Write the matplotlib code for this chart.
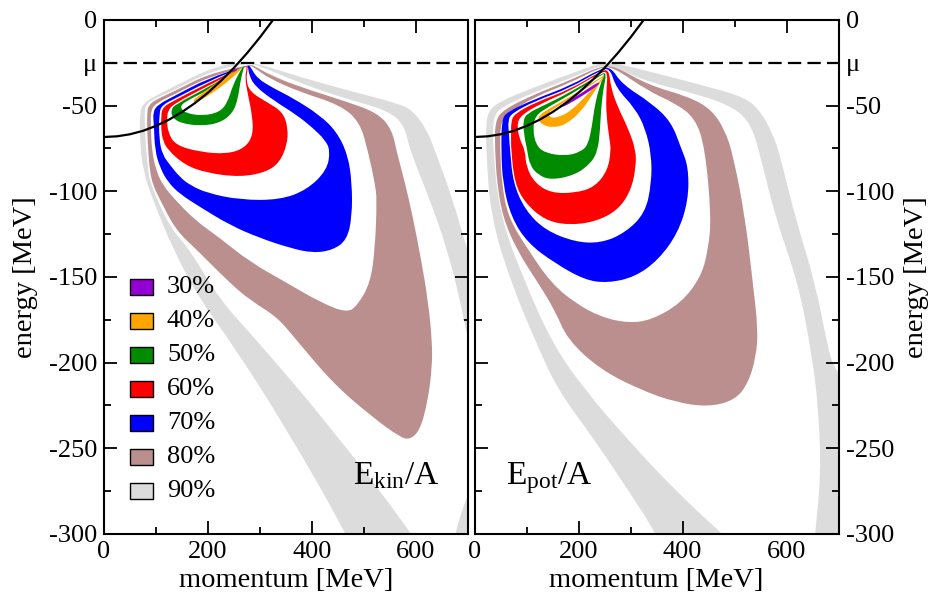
import matplotlib
matplotlib.use("Agg")
import matplotlib.pyplot as plt
from matplotlib.patches import Rectangle, PathPatch
from matplotlib.path import Path

plt.rcParams['font.family'] = ['Liberation Serif', 'DejaVu Serif']
plt.rcParams['mathtext.fontset'] = 'custom'
plt.rcParams['mathtext.rm'] = 'Liberation Serif'
plt.rcParams['mathtext.it'] = 'Liberation Serif:italic'
plt.rcParams['axes.unicode_minus'] = False

# ---------------------------------------------------------------- data
levels = ['30%', '40%', '50%', '60%', '70%', '80%', '90%']
level_colors = ['#9400d3', '#ffa500', '#008b00', '#ff0000', '#0000ff', '#bc8f8f', '#dcdcdc']

mu = -25.0  # chemical potential [MeV]

# quasi-particle dispersion (momentum [MeV], energy [MeV])
disp_p = [0, 25, 50, 75, 100, 125, 150, 175, 200, 225, 250, 275, 300, 325, 340]
disp_e = [-68.3, -67.9, -66.7, -64.7, -61.8, -58.2, -53.7, -48.5, -42.4, -35.5,
          -27.9, -19.4, -10.1, 0.0, 6.5]

x_major = [0, 200, 400, 600]
x_minor = [100, 300, 500]
y_major = [0, -50, -100, -150, -200, -250, -300]
y_minor = [-25, -75, -125, -175, -225, -275]

# contour bands, kinetic energy panel: outer and inner boundaries (p, E)
kin_gray_out = [(483, -315), (467, -300), (344, -235), (242, -187), (185, -163.5),
                (133, -134), (94, -105), (75, -88), (69, -70), (69, -54), (75, -49),
                (94, -45), (137, -38.5), (198, -29.2), (242, -25.4), (271, -24.8),
                (292, -25.1), (377, -33.3), (473, -41.4), (569, -49), (594, -53),
                (621, -64), (640, -79), (671, -105), (698, -134), (762, -193), (762, -315)]
kin_gray_in = [(617, -315), (594, -300), (429, -235), (294, -187), (223, -163.5),
               (165, -134), (131, -122.6), (102, -105), (88, -93.4), (85, -87.6),
               (81, -76), (79, -64), (78, -53.7), (81, -49), (98, -45.8), (137, -40.6),
               (198, -30.9), (271, -25.1), (296, -26.3), (377, -36.8), (454, -45),
               (550, -53.1), (579, -62.5), (588, -76), (627, -105), (660, -134),
               (685, -163.5), (698, -185), (723, -204), (723, -268.5), (698, -277),
               (675, -300), (665, -315)]
kin_brown_out = [(281, -26), (198, -31.8), (137, -41.4), (98, -46.7), (85, -50.2),
                 (83, -54.3), (83, -64.2), (85, -76), (88, -87.6), (94, -96.3),
                 (108, -105), (138, -122.6), (179, -134.3), (242, -153.5), (281, -163.5),
                 (333, -173.4), (367, -185.6), (440, -212), (517, -232), (569, -243.4),
                 (588, -245), (608, -239.4), (623, -222), (631, -202.6), (631, -187),
                 (623, -163.5), (610, -140), (594, -115), (579, -95.2), (563, -77),
                 (554, -64.2), (527, -54.3), (463, -47.3), (377, -39.1), (319, -32.1),
                 (290, -26.9)]
kin_brown_in = [(281, -26.6), (198, -33.6), (137, -43.2), (102, -48.2), (90, -52.5),
                (90, -61.3), (92, -76), (100, -87.6), (113, -96.3), (137, -105),
                (175, -116.8), (223, -127.3), (281, -141.3), (352, -153.5), (415, -164.6),
                (467, -171), (488, -166.4), (512, -153.5), (521, -134.3), (525, -105),
                (521, -95.2), (508, -77), (492, -59.5), (454, -49.6), (377, -42),
                (319, -34.4), (287, -27.4)]
kin_blue_out = [(277, -26.3), (198, -34.4), (137, -44.1), (104, -49.3), (94, -53.7),
                (96, -61.3), (98, -76), (108, -86.4), (123, -94.6), (146, -101.6),
                (185, -109.2), (242, -119.7), (300, -127.3), (358, -133.1), (402, -136),
                (440, -134.3), (467, -128.4), (477, -115), (477, -95.2), (469, -78.8),
                (448, -65.4), (415, -55.5), (363, -45.5), (325, -39.7), (294, -33.9),
                (281, -26.9)]
kin_blue_in = [(273, -26.6), (198, -36.2), (137, -45.8), (112, -49.6), (106, -54.3),
               (106, -70), (113, -78.8), (127, -84.7), (146, -91.7), (165, -96.3),
               (198, -101), (262, -105), (338, -105), (390, -99.2), (429, -87.6),
               (435, -76), (425, -70), (402, -63.1), (371, -55.5), (325, -46.7),
               (290, -38.5), (279, -32.1), (277, -27.1)]
kin_red_out = [(275, -26.3), (198, -37.1), (137, -46.7), (113, -50.8), (110, -55.5),
               (110, -64.2), (113, -70), (123, -76), (156, -84.7), (198, -89.3),
               (262, -91.7), (313, -88.7), (338, -82.9), (352, -73), (354, -63.1),
               (344, -53.7), (313, -47.9), (281, -42), (273, -35), (277, -27.4)]
kin_red_in = [(273, -26.9), (198, -38.8), (137, -48.5), (123, -52.5), (121, -58.4),
              (123, -65.4), (137, -73), (185, -77.1), (237, -78.2), (271, -74.7),
              (287, -67.1), (285, -55.5), (277, -43.8), (271, -33.9), (275, -27.7)]
kin_green_out = [(271, -26.6), (198, -39.7), (137, -49.3), (129, -52.5), (131, -56.6),
                 (146, -60.1), (185, -61.9), (223, -60.1), (248, -54.3), (258, -45.5),
                 (262, -36.2), (269, -27.4)]
kin_green_in = [(269, -27.1), (198, -41.4), (156, -47.6), (146, -50.8), (156, -54.3),
                (190, -56), (223, -53.7), (238, -47.9), (248, -37.9), (265, -28)]
kin_orange_out = [(267, -26.9), (223, -35), (185, -43.8), (171, -46.7), (175, -48.5),
                  (194, -45.5), (233, -37.4), (265, -28.6)]
kin_purple_out = [(254, -28.3), (244, -30.4), (248, -30.6), (258, -28.9)]

# contour bands, potential energy panel
pot_gray_out = [(365, -315), (349, -299.5), (295, -274.4), (231, -245.2), (160, -216),
                (120, -189.7), (70, -153.5), (31, -115), (22, -76), (22, -61.3),
                (26, -53.7), (45, -47.9), (116, -39.1), (183, -31.5), (241, -25.1),
                (270, -25.1), (347, -30.9), (435, -37.9), (520, -45), (551, -53.7),
                (574, -67.1), (587, -78.8), (616, -115), (655, -153.5), (680, -192.7),
                (693, -204.3), (741, -221.8), (741, -315)]
pot_gray_in = [(530, -315), (474, -299.5), (385, -274.4), (295, -245.2), (212, -216),
               (151, -189.7), (97, -153.5), (49, -115), (35, -76), (35, -57.2),
               (51, -50.8), (116, -42), (183, -34.2), (243, -26.3), (270, -27.4),
               (333, -36.2), (435, -43.8), (501, -51.4), (532, -61.3), (549, -78.8),
               (578, -115), (622, -153.5), (647, -192.7), (661, -225.9), (666, -264.5),
               (655, -299.5), (649, -315)]
pot_brown_out = [(270, -26.9), (333, -37.9), (414, -45), (456, -52.5), (481, -64.2),
                 (497, -78.8), (520, -115), (535, -153.5), (545, -181), (541, -196.7),
                 (526, -211.9), (501, -221.8), (449, -225.9), (385, -223), (320, -216),
                 (243, -204.3), (179, -186.8), (154, -169.3), (122, -153.5), (81, -134.3),
                 (54, -115), (43, -95.2), (39, -76), (39, -59.5), (54, -52.5),
                 (116, -43.2), (183, -35.3), (241, -26.9)]
pot_brown_in = [(266, -27.4), (333, -41.4), (385, -48.5), (424, -57.2), (443, -74.7),
                (455, -115), (449, -134.3), (435, -150), (397, -165.2), (340, -175.1),
                (295, -176.9), (243, -173.4), (193, -165.2), (147, -153.5), (103, -134.3),
                (64, -115), (52, -95.2), (49, -76), (49, -61.3), (62, -54.9),
                (116, -44.7), (183, -36.8), (241, -27.7)]
pot_blue_out = [(51, -76), (54, -95.2), (70, -115), (102, -130.2), (154, -141.9),
                (212, -151.8), (256, -153.5), (308, -150), (353, -140.1), (391, -124.3),
                (411, -105.1), (411, -85.8), (397, -74.7), (378, -59.5), (340, -48.5),
                (283, -37.4), (262, -27.4), (241, -28.6), (183, -38.5), (116, -46.1),
                (62, -53.7), (52, -58.4)]
pot_blue_in = [(68, -76), (74, -95.2), (97, -110.9), (135, -122.6), (193, -129.6),
               (243, -130.2), (289, -124.3), (328, -112.7), (340, -95.2), (340, -78.8),
               (328, -63.1), (308, -51.4), (272, -39.7), (260, -28), (241, -29.5),
               (183, -39.7), (116, -47.3), (72, -54.3), (64, -58.4), (66, -67.1)]
pot_red_out = [(70, -76), (77, -95.2), (97, -106.8), (135, -116.8), (179, -119.7),
               (231, -117.9), (276, -110.9), (301, -99.2), (310, -85.8), (310, -76),
               (295, -63.1), (276, -51.4), (262, -39.7), (258, -28.6), (241, -30.1),
               (183, -40.6), (116, -48.2), (76, -54.9), (70, -59.5), (70, -67.1)]
pot_red_in = [(97, -76), (99, -85.8), (116, -95.2), (147, -101), (193, -101),
              (231, -97.5), (256, -87.6), (262, -76), (260, -71.2), (253, -55.5),
              (253, -42), (256, -29.8), (241, -30.9), (183, -41.4), (128, -48.7),
              (89, -55.5), (81, -61.3), (87, -70.1)]
pot_green_out = [(241, -31.8), (183, -42.3), (135, -49.6), (102, -54.3), (93, -58.4),
                 (95, -67.1), (101, -76), (106, -84.7), (122, -90.5), (147, -93.4),
                 (193, -90.5), (224, -83.5), (237, -76), (241, -64.2), (243, -52.5),
                 (247, -40.9), (254, -30.4)]
pot_green_in = [(241, -32.7), (183, -43.8), (141, -50.8), (116, -56), (112, -64.2),
                (118, -73), (135, -77.6), (174, -79.4), (203, -77.1), (218, -73),
                (226, -61.3), (231, -49.6), (241, -37.9), (251, -30.9)]
pot_orange_out = [(241, -33.6), (183, -45), (145, -51.4), (124, -55.5), (122, -58.4),
                  (131, -61.3), (149, -62.8), (174, -61.3), (204, -53.7), (226, -43.8),
                  (241, -36.8), (251, -32.1)]
pot_orange_in = [(241, -34.4), (187, -45.5), (154, -51.4), (141, -54.3), (145, -57.2),
                 (164, -56.6), (187, -52.5), (212, -45), (237, -36.8), (247, -33.3)]
pot_purple_out = [(237, -36.2), (203, -43.2), (170, -49), (160, -50.8), (166, -51.4),
                  (191, -47.3), (222, -41.4), (241, -37.1)]

# ---------------------------------------------------------------- figure
fig = plt.figure(figsize=(9.30, 5.93), dpi=100)
ax_kin = fig.add_axes([0.1118, 0.0995, 0.3914, 0.8668])
ax_pot = fig.add_axes([0.5104, 0.0995, 0.3914, 0.8668])

kin_bands = [
    (kin_gray_out, kin_gray_in, level_colors[6]),
    (kin_brown_out, kin_brown_in, level_colors[5]),
    (kin_blue_out, kin_blue_in, level_colors[4]),
    (kin_red_out, kin_red_in, level_colors[3]),
    (kin_green_out, kin_green_in, level_colors[2]),
    (kin_orange_out, None, level_colors[1]),
    (kin_purple_out, None, level_colors[0]),
]
pot_bands = [
    (pot_gray_out, pot_gray_in, level_colors[6]),
    (pot_brown_out, pot_brown_in, level_colors[5]),
    (pot_blue_out, pot_blue_in, level_colors[4]),
    (pot_red_out, pot_red_in, level_colors[3]),
    (pot_green_out, pot_green_in, level_colors[2]),
    (pot_orange_out, pot_orange_in, level_colors[1]),
    (pot_purple_out, None, level_colors[0]),
]


def rounded_outline(pts):
    """Closed outline with quadratic-Bezier corners through edge midpoints."""
    n = len(pts)
    mids = [((pts[i][0] + pts[(i + 1) % n][0]) / 2,
             (pts[i][1] + pts[(i + 1) % n][1]) / 2) for i in range(n)]
    verts = [mids[-1]]
    codes = [Path.MOVETO]
    for i in range(n):
        verts += [pts[i], mids[i]]
        codes += [Path.CURVE3, Path.CURVE3]
    verts.append(mids[-1])
    codes.append(Path.CLOSEPOLY)
    return Path(verts, codes)


def draw_bands(ax, bands):
    z = 1
    for outer, inner, color in bands:
        ax.add_patch(PathPatch(rounded_outline(outer), facecolor=color,
                               edgecolor='none', lw=0, zorder=z))
        z += 1
        if inner:
            ax.add_patch(PathPatch(rounded_outline(inner), facecolor='white',
                                   edgecolor='none', lw=0, zorder=z))
            z += 1


TICK_FS = 19
LABEL_FS = 20.5

for ax, bands in ((ax_kin, kin_bands), (ax_pot, pot_bands)):
    draw_bands(ax, bands)
    ax.plot(disp_p, disp_e, color='black', lw=1.6, zorder=30)
    ax.axhline(mu, color='black', lw=1.6, ls=(0, (6, 2.8)), zorder=30)
    ax.set_xlim(0, 700)
    ax.set_ylim(-300, 0)
    ax.set_xticks(x_major)
    ax.set_xticklabels([str(v) for v in x_major])
    ax.set_xticks(x_minor, minor=True)
    ax.set_yticks(y_major)
    ax.set_yticklabels([str(v) for v in y_major])
    ax.set_yticks(y_minor, minor=True)
    ax.set_yticklabels(['\u03bc'] + [''] * (len(y_minor) - 1), minor=True)
    ax.tick_params(which='both', direction='in', top=True, bottom=True,
                   left=True, right=True, labelsize=TICK_FS, width=1.3, pad=5)
    ax.tick_params(which='major', length=9.5)
    ax.tick_params(which='minor', length=5)
    for s in ax.spines.values():
        s.set_linewidth(1.5)
        s.set_zorder(40)
    ax.set_xlabel('momentum [MeV]', fontsize=LABEL_FS, labelpad=4)

ax_kin.set_ylabel('energy [MeV]', fontsize=LABEL_FS, labelpad=8)
ax_pot.set_ylabel('energy [MeV]', fontsize=LABEL_FS, labelpad=7)
ax_pot.yaxis.set_label_position('right')
ax_pot.tick_params(which='both', labelleft=False, labelright=True)

# legend drawn as labelled swatches
for i, (lab, col) in enumerate(zip(levels, level_colors)):
    yc = 0.4805 - i * 0.0661
    ax_kin.add_patch(Rectangle((0.0714, yc - 0.0155), 0.063, 0.031,
                               transform=ax_kin.transAxes, facecolor=col,
                               edgecolor='black', lw=1.0, zorder=50))
    ax_kin.text(0.173, yc, lab, transform=ax_kin.transAxes, fontsize=TICK_FS,
                va='center', ha='left', zorder=50)

ax_kin.text(0.684, 0.097, r'$\mathrm{E_{kin}/A}$', transform=ax_kin.transAxes,
            fontsize=24, va='baseline', ha='left', zorder=50)
ax_pot.text(0.086, 0.097, r'$\mathrm{E_{pot}/A}$', transform=ax_pot.transAxes,
            fontsize=24, va='baseline', ha='left', zorder=50)

fig.savefig('out.png', dpi=100)
